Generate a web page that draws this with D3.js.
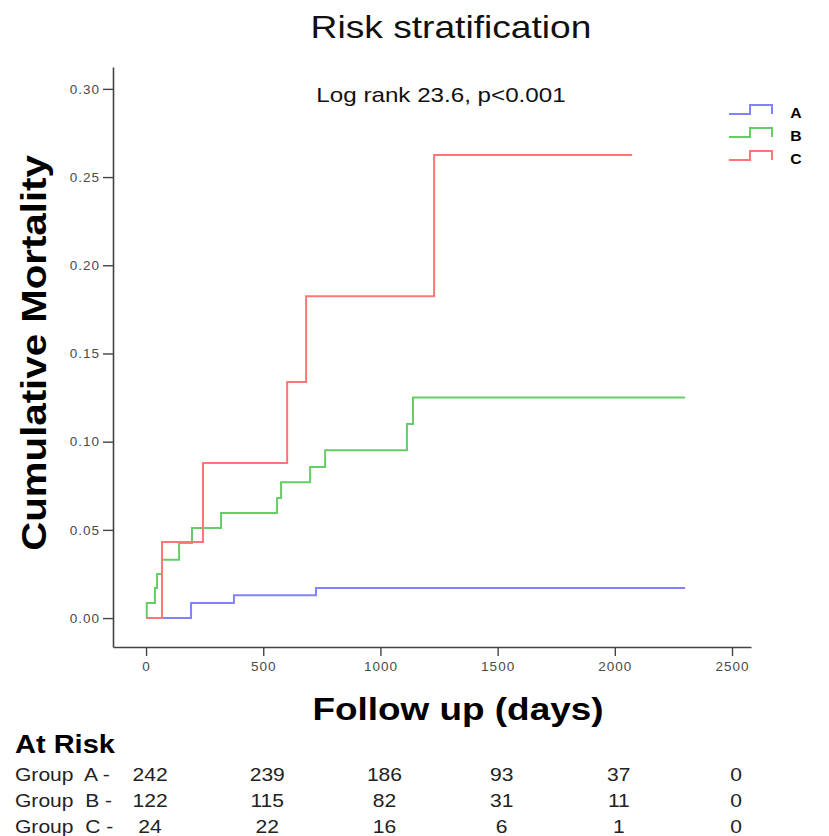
<!DOCTYPE html>
<html>
<head>
<meta charset="utf-8">
<script src="https://cdn.jsdelivr.net/npm/d3@7"></script>
<style>
	body { margin: 0; background: #fff; }
	text { font-family: "Liberation Sans", Arial, sans-serif; white-space: pre; }
</style>
</head>
<body>
<svg id="chart" width="829" height="836"></svg>
<script>
'use strict';

// Kaplan-Meier steps (days, cumulative mortality)
var daysA = [0, 192, 375, 725, 2300];
var cumA  = [0, 0.0085, 0.013, 0.017, 0.017];
var daysB = [0, 3, 38, 47, 68, 141, 196, 320, 559, 576, 700, 764, 1113, 1139, 2300];
var cumB  = [0, 0.0085, 0.017, 0.025, 0.033, 0.0425, 0.051, 0.0595, 0.068, 0.077, 0.0856, 0.0952, 0.11, 0.125, 0.125];
var daysC = [0, 68, 243, 602, 683, 1229, 2074];
var cumC  = [0, 0.0431, 0.0879, 0.1338, 0.1825, 0.2625, 0.2625];

var groupNames = ['A', 'B', 'C'];
var groupColors = ['#8282ff', '#66cc66', '#ff7676'];

var xTicks = [0, 500, 1000, 1500, 2000, 2500];
var yTicks = [0, 0.05, 0.10, 0.15, 0.20, 0.25, 0.30];

// numbers at risk under each x tick
var atRiskA = [242, 239, 186, 93, 37, 0];
var atRiskB = [122, 115, 82, 31, 11, 0];
var atRiskC = [24, 22, 16, 6, 1, 0];

var svg = d3.select('#chart');

// the source figure has its text drawn wide, so stretch it a bit
var stretch = 1.18;
var addText = function(parent, x, y, str, k) {
	return parent.append('text')
		.attr('transform', 'translate(' + x + ',' + y + ') scale(' + (k || stretch) + ',1)')
		.text(str);
};

var xScale = d3.scaleLinear().domain([-141, 2581]).range([113, 751]);
var yScale = d3.scaleLinear().domain([-0.0164, 0.3124]).range([647, 67]);

// axes
var xAxis = d3.axisBottom(xScale)
	.tickValues(xTicks)
	.tickSize(9)
	.tickSizeOuter(0)
	.tickPadding(5)
	.tickFormat(d3.format('d'));
var yAxis = d3.axisLeft(yScale)
	.tickValues(yTicks)
	.tickSize(10)
	.tickSizeOuter(0)
	.tickPadding(3)
	.tickFormat(d3.format('.2f'));

var gx = svg.append('g').attr('transform', 'translate(0,' + yScale.range()[0] + ')').call(xAxis);
var gy = svg.append('g').attr('transform', 'translate(' + xScale.range()[0] + ',0)').call(yAxis);

[gx, gy].forEach(function(g) {
	g.select('.domain').attr('stroke', '#444').attr('stroke-width', 1.6);
	g.selectAll('.tick line').attr('stroke', '#444').attr('stroke-width', 1.4);
	g.selectAll('.tick text')
		.attr('fill', '#4a4a4a')
		.attr('font-family', '"DejaVu Sans", Verdana, sans-serif')
		.attr('font-size', 13.5)
		.style('letter-spacing', '1px');
});

// survival curves
var line = d3.line()
	.x(function(d) { return xScale(d[0]); })
	.y(function(d) { return yScale(d[1]); })
	.curve(d3.curveStepAfter);

var series = [d3.zip(daysA, cumA), d3.zip(daysB, cumB), d3.zip(daysC, cumC)];
svg.append('g').selectAll('path')
	.data(series)
	.join('path')
	.attr('d', line)
	.attr('fill', 'none')
	.attr('stroke', function(d, i) { return groupColors[i]; })
	.attr('stroke-width', 2);

// legend
var legend = svg.append('g').attr('transform', 'translate(729,114)');
groupNames.forEach(function(name, i) {
	var row = legend.append('g').attr('transform', 'translate(0,' + (i * 23) + ')');
	row.append('path')
		.attr('d', 'M0,0H21V-9H43V0')
		.attr('fill', 'none')
		.attr('stroke', groupColors[i])
		.attr('stroke-width', 2);
	addText(row, 67, 4, name, 1.05)
		.attr('text-anchor', 'middle')
		.style('font-size', '15px')
		.style('font-weight', 'bold');
});

// titles
addText(svg, 451, 38, 'Risk stratification')
	.attr('text-anchor', 'middle')
	.style('font-size', '31.5px')
	.attr('fill', '#111');
addText(svg, 441, 102, 'Log rank 23.6, p<0.001')
	.attr('text-anchor', 'middle')
	.style('font-size', '20.5px')
	.attr('fill', '#111');
addText(svg, 458, 720, 'Follow up (days)', 1.19)
	.attr('text-anchor', 'middle')
	.style('font-size', '31px')
	.style('font-weight', 'bold');
svg.append('text')
	.attr('transform', 'translate(46,353) rotate(-90) scale(1.15,1)')
	.attr('text-anchor', 'middle')
	.style('font-size', '35px')
	.style('font-weight', 'bold')
	.text('Cumulative Mortality');

// at risk table
addText(svg, 15, 753, 'At Risk', 1.16)
	.style('font-size', '25px')
	.style('font-weight', 'bold');

var riskRows = [atRiskA, atRiskB, atRiskC];
riskRows.forEach(function(counts, i) {
	var y = 781 + i * 26;
	addText(svg, 15, y, 'Group  ' + groupNames[i] + ' -', 1.17)
		.style('font-size', '18px')
		.attr('fill', '#222');
	counts.forEach(function(n, j) {
		addText(svg, xScale(xTicks[j]) + 4, y, String(n), 1.17)
			.attr('text-anchor', 'middle')
			.style('font-size', '18px')
			.attr('fill', '#222');
	});
});
</script>
</body>
</html>
